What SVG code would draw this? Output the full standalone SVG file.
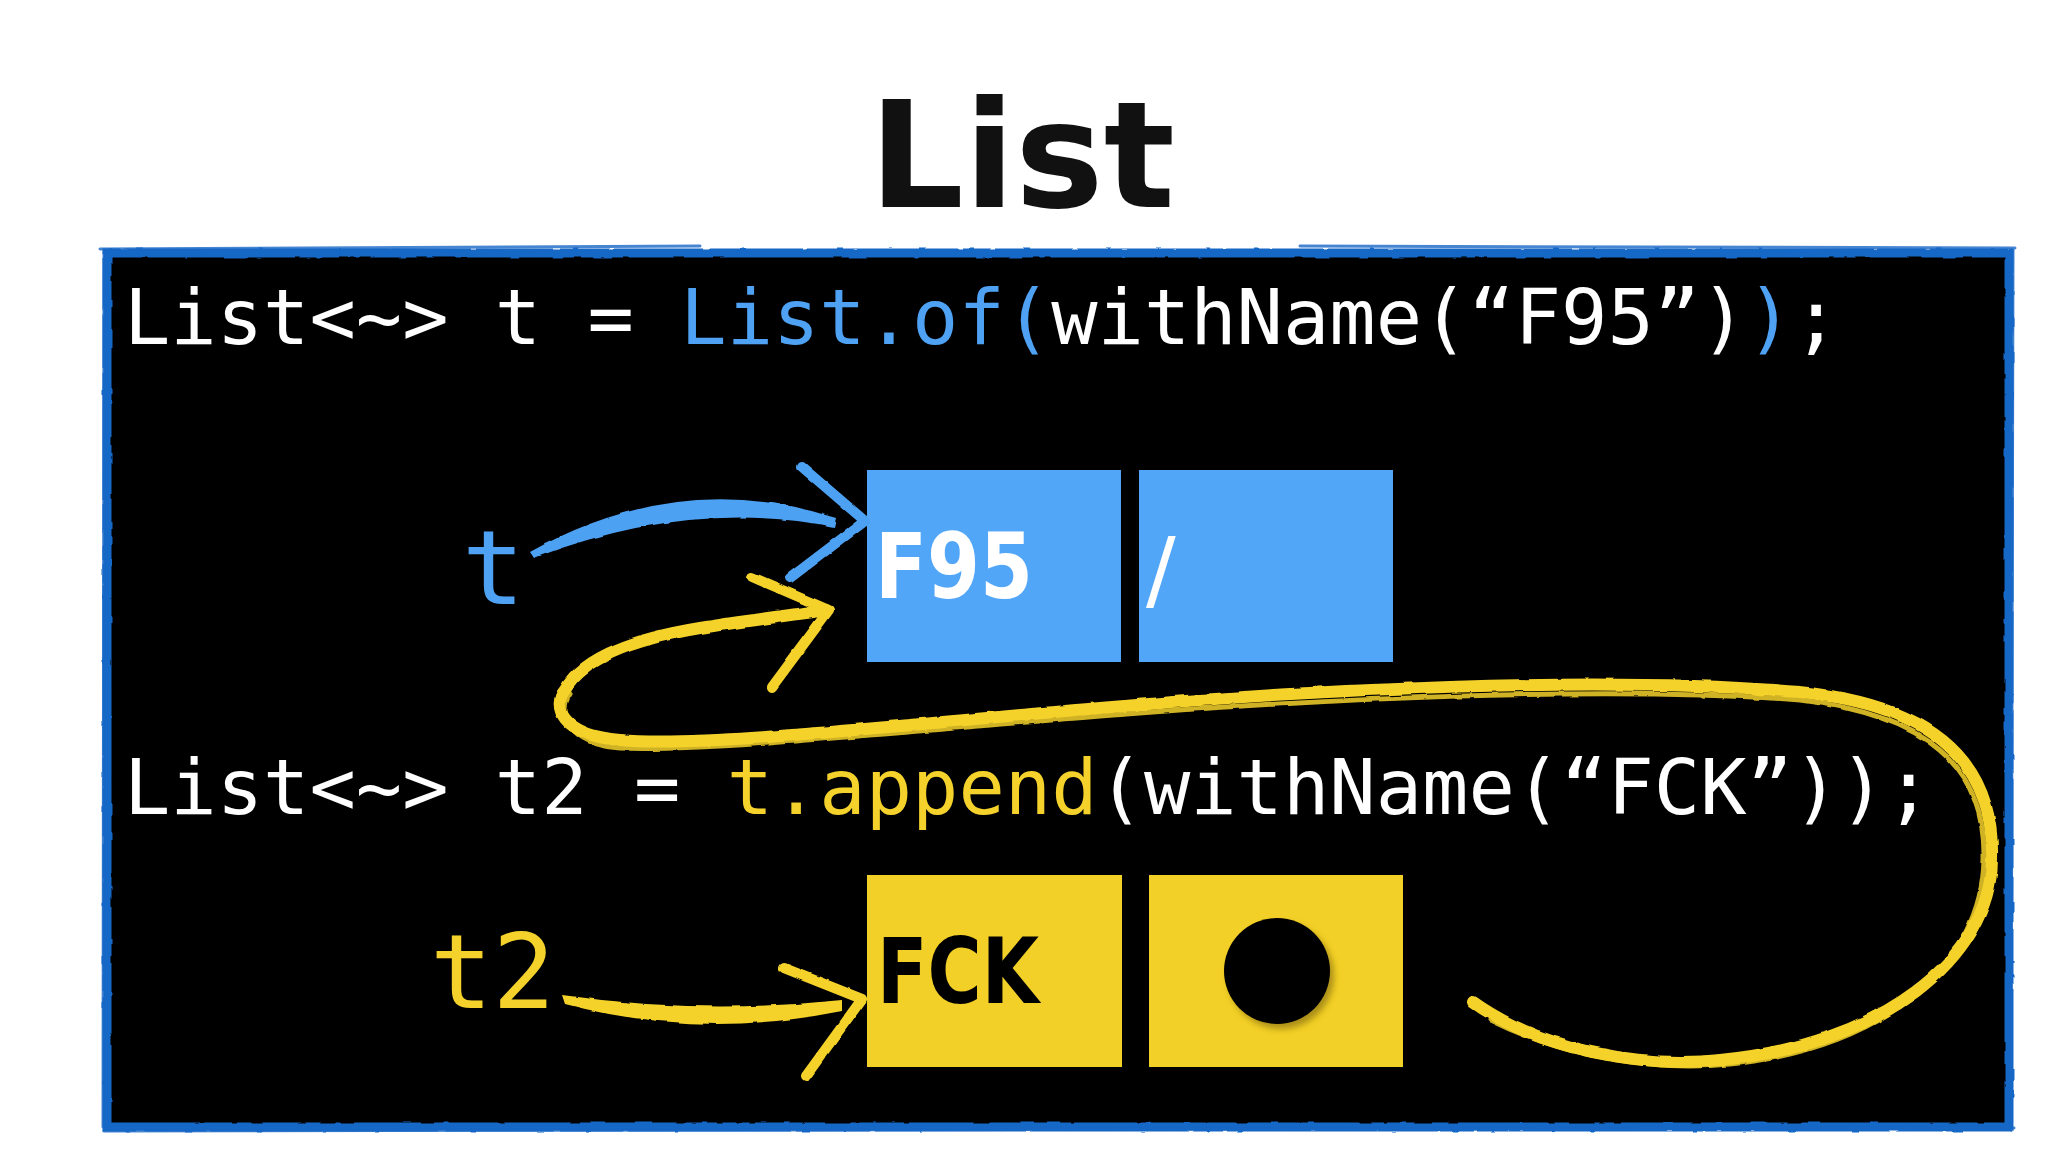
<svg xmlns="http://www.w3.org/2000/svg" width="2048" height="1152" viewBox="0 0 2048 1152">
<style>
.code{font-family:"DejaVu Sans Mono","Liberation Mono",monospace;font-size:77px;fill:#ffffff}
.blue{fill:#4ea1f3}
.yel{fill:#f4d22b}
.lbl{font-family:"DejaVu Sans Mono","Liberation Mono",monospace;font-size:104px}
.cell{font-family:"DejaVu Sans","Liberation Sans",sans-serif;font-weight:bold;font-size:90px}
.bs{fill:none;stroke:#4ea1f3;stroke-linecap:round;stroke-linejoin:round}
.ys{fill:none;stroke:#f4d22b;stroke-linecap:round;stroke-linejoin:round}
.bf{fill:#4ea1f3}
.yf{fill:#f4d22b}
.frame{fill:none;stroke:#1767c6;stroke-linecap:round}
</style>
<defs>
<filter id="rough" x="-10%" y="-10%" width="120%" height="120%">
<feTurbulence type="fractalNoise" baseFrequency="0.06" numOctaves="2" seed="3" result="n"/>
<feDisplacementMap in="SourceGraphic" in2="n" scale="3" xChannelSelector="R" yChannelSelector="G"/>
</filter>
<filter id="shadow" x="-20%" y="-20%" width="150%" height="150%">
<feGaussianBlur stdDeviation="3"/>
</filter>
</defs>
<rect width="2048" height="1152" fill="#ffffff"/>

<g id="title">
<text x="869" y="207" font-family="DejaVu Sans,Liberation Sans,sans-serif" font-weight="bold" font-size="148" textLength="306" lengthAdjust="spacingAndGlyphs" fill="#111111">List</text>
</g>

<g id="panel">
<rect x="107" y="253" width="1902" height="874" fill="#000000"/>
<rect class="frame" x="107" y="253" width="1902" height="874" stroke-width="9" filter="url(#rough)"/>
<path class="frame" d="M100,249 L700,246 M1300,246 L2015,248 M2013,250 L2011,1130 M2014,1128 L104,1131 M103,1127 L104,252" stroke-width="3" opacity="0.8"/>
</g>

<g id="code-line1">
<text class="code" x="124" y="344">List&lt;~&gt; t = <tspan class="blue">List.of(</tspan>withName(“F95”)<tspan class="blue">)</tspan>;</text>
</g>
<g id="code-line2">
<text class="code" x="124" y="814">List&lt;~&gt; t2 = <tspan class="yel">t.append</tspan>(withName(“FCK”));</text>
</g>

<g id="label-t">
<text class="lbl blue" x="462" y="604">t</text>
</g>
<g id="label-t2">
<text class="lbl yel" x="430" y="1008">t2</text>
</g>

<g id="node-f95">
<rect x="867" y="470" width="254" height="192" fill="#52a6f7"/>
<text class="cell" x="875" y="598" fill="#ffffff" textLength="158" lengthAdjust="spacingAndGlyphs">F95</text>
</g>
<g id="node-f95-next">
<rect x="1139" y="470" width="254" height="192" fill="#52a6f7"/>
<text x="1146" y="600" font-family="DejaVu Sans,Liberation Sans,sans-serif" font-size="88" fill="#ffffff">/</text>
</g>
<g id="node-fck">
<rect x="867" y="875" width="255" height="192" fill="#f3d027"/>
<text class="cell" x="877" y="1003" fill="#000000" textLength="162" lengthAdjust="spacingAndGlyphs">FCK</text>
</g>
<g id="node-fck-next">
<rect x="1149" y="875" width="254" height="192" fill="#f3d027"/>
<circle cx="1281" cy="976" r="53" fill="#7a6410" opacity="0.6" filter="url(#shadow)"/>
<circle cx="1277" cy="971" r="53" fill="#000000"/>
</g>

<g id="connectors" filter="url(#rough)">
<!-- t -> F95 -->
<path class="bf" d="M530,552 Q680,468 836,518 L834,527 Q690,498 534,558 Z"/>
<path class="bs" d="M802,467 L865,521 L790,578" stroke-width="10"/>
<!-- t2 -> FCK -->
<path class="yf" d="M562,995 Q700,1015 842,1000 L842,1011 Q700,1040 565,1004 Z"/>
<path class="ys" d="M784,968 L862,999 L806,1076" stroke-width="10"/>
<!-- FCK next -> F95 -->
<path class="ys" d="M1473,1002 C1540,1050 1640,1068 1720,1060 C1880,1045 1990,960 1992,860 C1995,760 1930,705 1800,692 C1600,675 1300,690 1100,708 C900,725 700,748 620,740 C560,735 552,705 565,690 C585,655 640,638 700,628 C750,620 800,614 826,610" stroke-width="12"/>
<path class="ys" d="M1490,1020 C1560,1055 1650,1072 1730,1064 C1890,1048 1982,960 1984,860 C1986,765 1925,715 1800,700 C1600,685 1300,700 1100,716 C900,732 700,752 620,748 C565,744 558,710 570,694" stroke-width="5" opacity="0.85"/>
<path class="ys" d="M752,577 L829,610 L772,687" stroke-width="10"/>
</g>
</svg>
